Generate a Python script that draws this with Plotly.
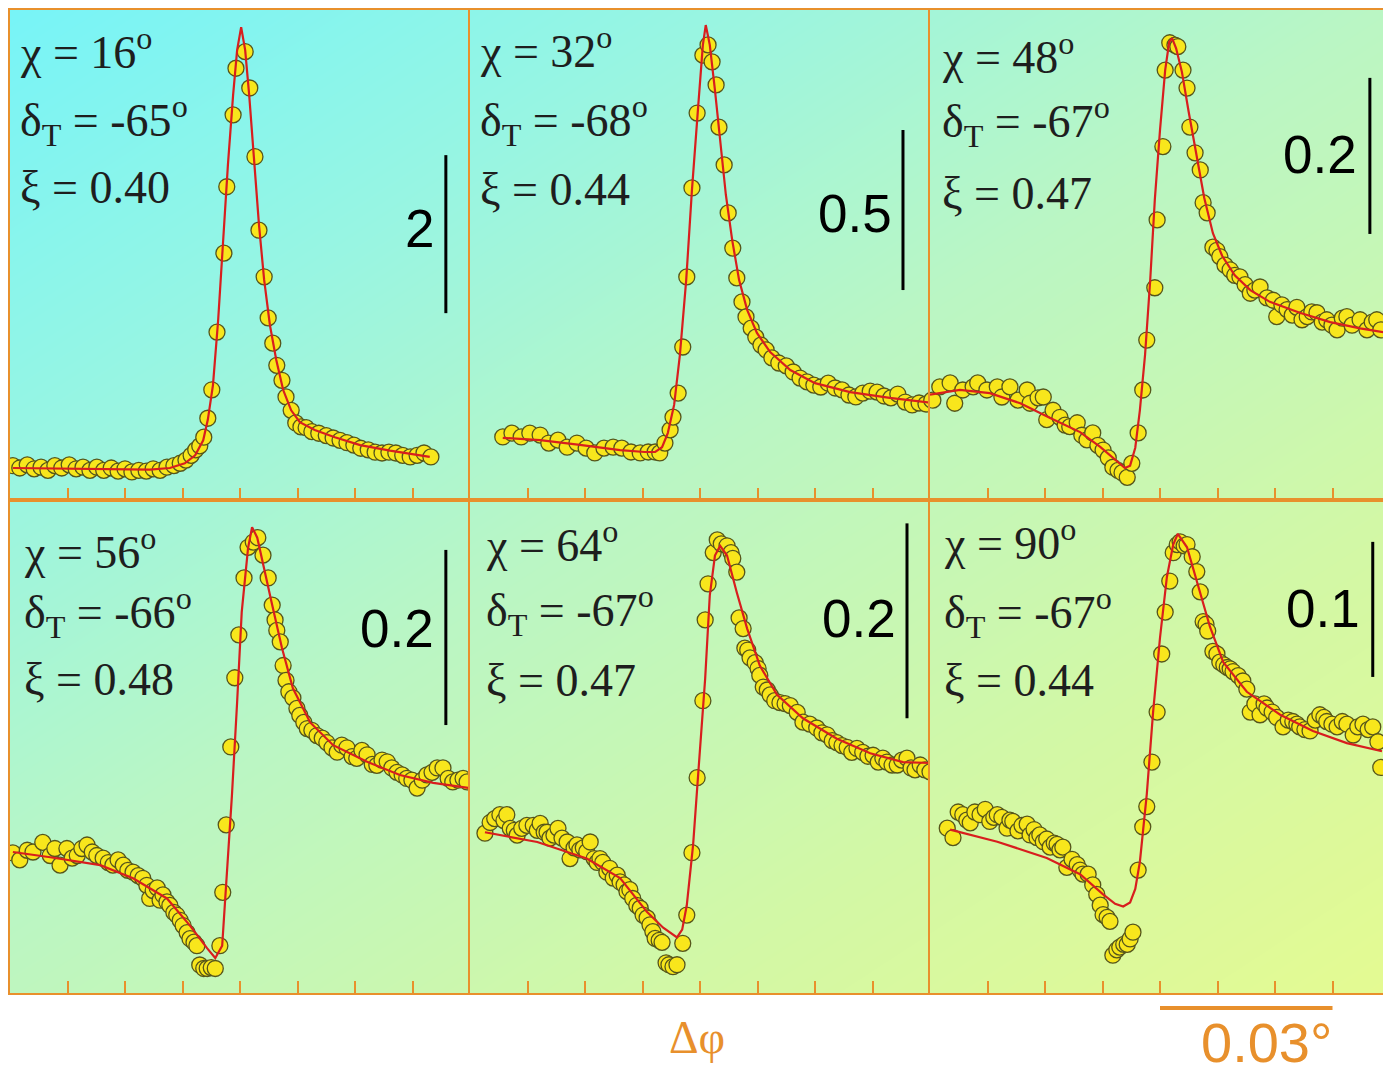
import numpy as np
import plotly.graph_objects as go

# ======================= DATA =======================
# Panel parameters (text shown in each panel)
chi_deg = ["16", "32", "48", "56", "64", "90"]
delta_T_deg = ["-65", "-68", "-67", "-66", "-67", "-67"]
xi_vals = ["0.40", "0.44", "0.47", "0.48", "0.47", "0.44"]
scale_bar_values = [2, 0.5, 0.2, 0.2, 0.2, 0.1]
scale_bar_labels = ["2", "0.5", "0.2", "0.2", "0.2", "0.1"]
phi_scale_deg = 0.03
phi_scale_label = "0.03°"
x_tick_deg = [-0.03, -0.02, -0.01, 0.0, 0.01, 0.02, 0.03]

# Panel 1 (chi = 16)  -- delta phi in millidegrees, signal in panel units
p1_dphi_mdeg = [-39.5, -38.3, -37.0, -35.8, -34.6, -33.4, -32.2, -31.0, -29.7, -28.5,
                -27.3, -26.1, -24.9, -23.7, -22.4, -21.2, -20.0, -18.8, -17.6, -16.3,
                -15.1, -13.9, -12.7, -11.5, -10.4, -9.4, -8.5, -7.7, -7.0, -6.3,
                -5.6, -4.9, -4.0, -2.8, -2.3, -1.2, -0.7,
                0.9, 1.7, 2.6, 3.3, 4.2, 4.9, 5.7, 6.4, 7.3, 8.0,
                8.9, 9.7, 10.6, 11.5, 12.5, 13.7, 15.0, 16.2, 17.4, 18.6,
                19.8, 21.0, 22.3, 23.5, 24.7, 25.9, 27.1, 28.3, 29.6, 30.8,
                32.0, 33.2]
p1_signal = [0.03, 0.00, 0.04, -0.01, 0.01, -0.03, 0.03, 0.00, 0.04, -0.01,
             0.01, -0.03, 0.01, -0.03, 0.00, -0.04, -0.01, -0.05, -0.03, -0.04,
             -0.01, -0.03, 0.01, 0.03, 0.06, 0.10, 0.16, 0.23, 0.28, 0.39,
             0.63, 0.99, 1.72, 2.72, 3.56, 4.47, 5.06,
             5.27, 4.81, 3.94, 3.01, 2.42, 1.90, 1.58, 1.30, 1.11, 0.90,
             0.73, 0.57, 0.52, 0.51, 0.46, 0.44, 0.41, 0.38, 0.35, 0.32,
             0.29, 0.25, 0.23, 0.20, 0.19, 0.20, 0.19, 0.16, 0.14, 0.16,
             0.19, 0.14]
p1_fit_dphi_mdeg = [-39.5, -24.3, -15.7, -12.2, -9.6, -7.8, -6.4, -5.6, -4.7, -3.8,
                    -3.0, -2.1, -1.2, -0.5, 0.2, 0.9, 1.6, 2.4, 3.3, 4.2,
                    5.2, 6.3, 7.5, 8.9, 10.4, 13.0, 16.5, 20.9, 26.1, 33.0]
p1_fit_signal = [0.00, -0.01, -0.02, 0.00, 0.06, 0.16, 0.35, 0.61, 1.05, 1.87,
                 2.82, 3.84, 4.72, 5.29, 5.58, 5.29, 4.72, 3.90, 3.08, 2.38,
                 1.81, 1.37, 0.99, 0.73, 0.58, 0.48, 0.39, 0.29, 0.22, 0.14]

# Panel 2 (chi = 32)
p2_dphi_mdeg = [-34.3, -32.7, -31.1, -29.6, -27.8, -26.3, -24.7, -23.1, -21.4, -19.8,
                -18.3, -16.7, -15.1, -13.6, -12.0, -10.4, -9.0,
                -7.8, -7.0, -6.1, -5.2, -4.7, -3.8, -3.0, -2.3, -1.4, -0.5,
                0.5, 1.4, 2.1, 2.8, 3.3, 4.2, 4.9, 5.7, 6.4, 7.3, 8.0,
                8.9, 9.7, 10.6, 11.5, 12.5, 13.7, 15.0, 16.2, 17.4, 18.6,
                19.8, 21.0, 22.3, 23.5, 24.7, 25.9, 27.1, 28.3, 29.6, 30.8,
                32.0, 33.2, 34.4, 35.7, 36.9, 38.1, 39.3, 40.3]
p2_signal = [0.041, 0.053, 0.041, 0.053, 0.047, 0.022, 0.031, 0.009, 0.022, 0.006,
             -0.009, 0.006, 0.009, 0.006, -0.006, -0.009, -0.006,
             -0.006, -0.009, 0.022, 0.063, 0.103, 0.178, 0.322, 0.541, 0.819, 1.053,
             1.234, 1.266, 1.213, 1.141, 1.009, 0.891, 0.741, 0.631, 0.538, 0.463, 0.416,
             0.381, 0.353, 0.328, 0.313, 0.288, 0.272, 0.263, 0.244, 0.225, 0.213,
             0.203, 0.197, 0.209, 0.194, 0.188, 0.172, 0.166, 0.178, 0.184, 0.181,
             0.169, 0.163, 0.175, 0.150, 0.141, 0.147, 0.144, 0.156]
p2_fit_dphi_mdeg = [-34.3, -27.8, -20.9, -13.9, -9.6, -7.8, -6.6, -5.6, -4.5, -3.5,
                    -2.4, -1.4, -0.3, 0.5, 1.0, 1.7, 2.6, 3.5, 4.5, 5.6,
                    6.8, 8.2, 9.9, 12.2, 15.7, 20.0, 26.1, 33.0, 40.5]
p2_fit_signal = [0.038, 0.031, 0.016, 0.000, -0.006, -0.006, 0.009, 0.053, 0.141, 0.297,
                 0.531, 0.813, 1.078, 1.266, 1.328, 1.266, 1.125, 0.969, 0.797, 0.656,
                 0.531, 0.438, 0.366, 0.306, 0.250, 0.209, 0.181, 0.163, 0.147]

# Panel 3 (chi = 48)
p3_dphi_mdeg = [-39.5, -38.3, -36.5, -35.7, -34.3, -32.5, -31.7, -30.1, -28.3, -27.5,
                -26.1, -24.7, -23.1, -22.6, -21.2, -20.3, -19.7, -18.6, -17.4, -16.5,
                -15.7, -14.4, -13.6, -12.7, -11.7, -10.8, -9.9, -9.0, -8.2, -7.3,
                -6.6, -5.7, -4.9, -3.8, -3.0, -2.3, -0.9, -0.5, 0.5, 0.9,
                1.7, 2.6, 3.1, 4.0, 4.7, 5.2, 6.1, 7.0, 7.5, 8.2,
                9.2, 9.9, 10.4, 11.3, 12.2, 13.0, 13.9, 14.8, 15.7, 16.5,
                17.4, 18.6, 19.7, 20.3, 21.2, 22.1, 23.0, 23.8, 24.7, 25.6,
                26.4, 27.3, 28.2, 29.0, 29.9, 30.8, 31.7, 32.5, 33.4, 34.8,
                36.0, 36.9, 37.7, 38.4]
p3_signal = [-0.013, 0.004, 0.009, -0.017, 0.000, 0.004, 0.009, 0.000, 0.004, -0.009,
             0.004, -0.013, 0.000, -0.017, -0.010, -0.009, -0.038, -0.026, -0.035, -0.045,
             -0.047, -0.042, -0.058, -0.064, -0.055, -0.071, -0.077, -0.087, -0.099, -0.103,
             -0.106, -0.112, -0.094, -0.055, 0.000, 0.064, 0.131, 0.218, 0.312, 0.410,
             0.445, 0.442, 0.440, 0.410, 0.387, 0.337, 0.304, 0.282, 0.240, 0.227,
             0.183, 0.179, 0.171, 0.160, 0.154, 0.147, 0.145, 0.135, 0.124, 0.128,
             0.132, 0.118, 0.115, 0.094, 0.109, 0.103, 0.096, 0.106, 0.090, 0.094,
             0.100, 0.099, 0.087, 0.090, 0.083, 0.077, 0.092, 0.094, 0.083, 0.090,
             0.077, 0.087, 0.090, 0.077]
p3_fit_dphi_mdeg = [-40.0, -34.8, -29.6, -24.3, -19.1, -13.9, -10.4, -7.8, -6.1, -5.2,
                    -4.3, -3.5, -2.6, -1.7, -0.9, 0.0, 0.9, 1.6, 2.1, 2.8,
                    3.8, 5.0, 6.3, 7.7, 9.2, 10.8, 13.0, 15.7, 19.1, 24.3,
                    29.6, 34.8, 38.8]
p3_fit_signal = [-0.006, 0.000, -0.004, -0.017, -0.036, -0.054, -0.073, -0.090, -0.100, -0.097,
                 -0.074, -0.026, 0.045, 0.141, 0.244, 0.333, 0.410, 0.446, 0.451, 0.438,
                 0.408, 0.356, 0.301, 0.246, 0.201, 0.172, 0.147, 0.128, 0.113, 0.099,
                 0.087, 0.079, 0.074]

# Panel 4 (chi = 56)
p4_dphi_mdeg = [-39.5, -38.3, -37.0, -36.0, -34.3, -33.0, -32.2, -31.3, -30.1, -29.2,
                -28.3, -27.5, -26.6, -25.7, -24.9, -23.8, -22.9, -22.1, -21.2, -20.3,
                -19.5, -18.6, -17.7, -16.9, -16.2, -15.7, -15.1, -14.4, -13.9, -13.4,
                -12.7, -12.2, -11.5, -11.0, -10.4, -9.9, -9.2, -8.7, -8.0, -7.5,
                -7.0, -6.3, -5.7, -5.0, -4.3, -3.5, -3.0, -2.4, -1.6, -0.9,
                -0.2, 0.7, 1.4, 2.3, 3.1, 4.0, 4.9, 5.6, 6.1, 6.4,
                7.0, 7.5, 8.0, 8.5, 9.2, 9.9, 10.4, 11.1, 11.7, 12.5,
                13.4, 14.3, 15.1, 16.0, 16.9, 17.7, 18.6, 19.5, 20.3, 21.2,
                22.1, 23.0, 23.8, 24.7, 25.6, 26.4, 27.3, 28.2, 29.0, 29.9,
                30.8, 31.7, 32.5, 33.4, 34.3, 35.3, 36.2, 37.0, 37.9, 38.8,
                39.5]
p4_signal = [-0.003, -0.011, 0.000, -0.002, 0.009, -0.006, 0.002, -0.017, 0.002, -0.009,
             -0.006, 0.002, 0.006, -0.002, -0.006, -0.009, -0.014, -0.017, -0.011, -0.017,
             -0.023, -0.025, -0.029, -0.032, -0.040, -0.055, -0.046, -0.043, -0.057, -0.051,
             -0.059, -0.063, -0.071, -0.074, -0.080, -0.086, -0.094, -0.101, -0.105, -0.109,
             -0.131, -0.135, -0.135, -0.134, -0.135, -0.109, -0.048, 0.029, 0.118, 0.197,
             0.246, 0.311, 0.346, 0.352, 0.357, 0.337, 0.311, 0.280, 0.263, 0.251,
             0.238, 0.211, 0.194, 0.181, 0.174, 0.162, 0.154, 0.146, 0.139, 0.137,
             0.131, 0.128, 0.123, 0.117, 0.112, 0.120, 0.117, 0.107, 0.105, 0.114,
             0.109, 0.098, 0.097, 0.103, 0.101, 0.094, 0.089, 0.086, 0.082, 0.080,
             0.071, 0.080, 0.086, 0.089, 0.094, 0.094, 0.082, 0.078, 0.080, 0.082,
             0.078]
p4_fit_dphi_mdeg = [-39.5, -33.0, -24.3, -18.6, -12.7, -8.7, -5.7, -4.3, -3.1, -2.3,
                    -1.4, -0.5, 0.3, 1.4, 2.1, 3.0, 4.0, 5.6, 7.3, 9.2,
                    12.2, 16.2, 22.1, 27.8, 33.6, 40.0]
p4_fit_signal = [-0.002, -0.008, -0.017, -0.032, -0.055, -0.086, -0.112, -0.123, -0.109, -0.032,
                 0.063, 0.169, 0.272, 0.345, 0.369, 0.357, 0.326, 0.280, 0.231, 0.185,
                 0.146, 0.120, 0.101, 0.086, 0.077, 0.071]

# Panel 5 (chi = 64)
p5_dphi_mdeg = [-37.4, -36.5, -35.7, -34.8, -34.1, -33.6, -33.0, -32.3, -31.8, -31.0,
                -30.1, -29.0, -28.3, -27.8, -27.1, -26.6, -26.1, -25.4, -24.7, -24.0,
                -23.1, -22.6, -21.9, -21.4, -20.9, -20.3, -19.7, -19.1, -18.4, -17.9,
                -17.4, -16.9, -16.2, -15.7, -15.1, -14.4, -13.9, -13.2, -12.7, -12.2,
                -11.7, -11.0, -10.4, -9.9, -9.2, -8.7, -8.2, -7.8, -7.1, -6.6,
                -5.9, -5.4, -4.7, -4.0, -3.0, -2.3, -1.4, -0.5, 0.5, 0.9,
                1.4, 2.3, 3.0, 3.7, 4.7, 5.4, 5.7, 6.4, 6.8, 7.5,
                7.8, 8.3, 8.7, 9.6, 10.1, 10.4, 11.0, 11.7, 12.2, 13.0,
                13.9, 14.8, 15.7, 16.9, 17.9, 19.1, 20.3, 21.2, 22.1, 23.0,
                23.8, 24.7, 25.6, 26.4, 27.3, 28.3, 29.2, 30.1, 31.0, 31.8,
                32.5, 33.4, 34.3, 35.1, 36.0, 36.7, 37.4, 38.3, 39.1, 40.0]
p5_signal = [0.002, 0.013, 0.017, 0.021, 0.015, 0.021, 0.007, 0.005, 0.000, 0.007,
             0.010, 0.010, 0.005, 0.012, 0.003, 0.003, -0.003, 0.000, 0.007, -0.003,
             -0.007, -0.024, -0.013, -0.010, -0.015, -0.013, -0.017, -0.007, -0.024, -0.028,
             -0.024, -0.028, -0.038, -0.034, -0.044, -0.041, -0.048, -0.051, -0.058, -0.056,
             -0.065, -0.072, -0.075, -0.082, -0.085, -0.092, -0.099, -0.106, -0.108, -0.110,
             -0.131, -0.133, -0.135, -0.133, -0.111, -0.082, -0.018, 0.059, 0.138, 0.221,
             0.258, 0.290, 0.303, 0.299, 0.297, 0.290, 0.284, 0.270, 0.223, 0.212,
             0.192, 0.190, 0.182, 0.177, 0.171, 0.164, 0.152, 0.149, 0.144, 0.138,
             0.136, 0.135, 0.133, 0.126, 0.116, 0.114, 0.110, 0.105, 0.103, 0.097,
             0.095, 0.092, 0.090, 0.085, 0.089, 0.085, 0.081, 0.082, 0.075, 0.079,
             0.075, 0.072, 0.072, 0.077, 0.079, 0.069, 0.067, 0.072, 0.067, 0.065]
p5_fit_dphi_mdeg = [-37.4, -28.3, -19.7, -13.9, -9.2, -6.4, -4.0, -3.1, -2.3, -1.2,
                    -0.2, 0.9, 1.7, 2.6, 3.5, 4.7, 6.4, 8.2, 10.4, 13.4,
                    17.9, 23.8, 29.6, 35.3, 40.3]
p5_fit_signal = [0.003, -0.007, -0.024, -0.044, -0.079, -0.095, -0.105, -0.097, -0.072, -0.010,
                 0.072, 0.161, 0.246, 0.287, 0.297, 0.287, 0.249, 0.212, 0.174, 0.144,
                 0.120, 0.099, 0.084, 0.075, 0.074]

# Panel 6 (chi = 90)
p6_dphi_mdeg = [-37.0, -36.0, -35.1, -34.3, -33.6, -33.0, -32.2, -31.3, -30.4, -29.6,
                -28.9, -28.3, -27.5, -26.6, -26.1, -25.6, -24.7, -24.0, -23.1, -22.6,
                -21.9, -21.4, -20.9, -20.3, -19.7, -19.1, -18.4, -17.9, -17.4, -16.9,
                -16.2, -15.3, -14.4, -13.9, -13.4, -12.5, -11.7, -11.0, -10.4, -9.9,
                -9.2, -8.7, -8.2, -7.5, -7.0, -6.3, -5.7, -5.2, -4.7, -3.8,
                -3.0, -2.3, -1.4, -0.5, 0.3, 0.9, 1.7, 2.3, 3.0, 3.5,
                4.2, 4.7, 5.6, 6.4, 7.0, 7.5, 8.0, 8.3, 9.2, 9.9,
                10.4, 11.1, 11.7, 12.2, 12.7, 13.6, 14.4, 15.1, 15.7, 16.5,
                17.4, 18.1, 18.6, 19.5, 20.3, 21.4, 22.3, 23.1, 23.8, 24.3,
                25.2, 26.1, 27.0, 27.8, 28.5, 29.0, 29.9, 30.8, 31.7, 32.5,
                33.6, 34.4, 35.3, 36.2, 37.0, 37.9, 38.4]
p6_signal = [0.001, -0.006, 0.013, 0.011, 0.007, 0.005, 0.013, 0.011, 0.015, 0.006,
             0.009, 0.011, 0.009, 0.001, 0.007, 0.006, -0.001, 0.003, 0.004, -0.004,
             0.000, -0.006, -0.004, -0.009, -0.007, -0.013, -0.010, -0.011, -0.015, -0.013,
             -0.028, -0.022, -0.026, -0.030, -0.033, -0.033, -0.041, -0.048, -0.056, -0.063,
             -0.065, -0.068, -0.093, -0.089, -0.087, -0.085, -0.085, -0.081, -0.076, -0.030,
             0.002, 0.017, 0.050, 0.087, 0.130, 0.161, 0.184, 0.205, 0.211, 0.213,
             0.210, 0.211, 0.202, 0.191, 0.176, 0.154, 0.152, 0.147, 0.132, 0.130,
             0.124, 0.122, 0.120, 0.119, 0.117, 0.114, 0.110, 0.104, 0.087, 0.093,
             0.085, 0.093, 0.090, 0.087, 0.083, 0.076, 0.081, 0.080, 0.078, 0.076,
             0.074, 0.073, 0.081, 0.085, 0.083, 0.080, 0.078, 0.076, 0.080, 0.078,
             0.070, 0.076, 0.078, 0.074, 0.076, 0.065, 0.046]
p6_fit_dphi_mdeg = [-36.5, -28.3, -19.7, -13.9, -9.9, -7.8, -6.4, -5.2, -4.3, -3.5,
                    -2.3, -1.2, 0.0, 1.2, 2.3, 3.1, 4.7, 6.4, 8.7, 11.0,
                    15.1, 20.9, 26.6, 32.5, 38.6]
p6_fit_signal = [0.000, -0.009, -0.021, -0.033, -0.048, -0.055, -0.057, -0.054, -0.044, -0.024,
                 0.026, 0.087, 0.142, 0.187, 0.211, 0.219, 0.209, 0.184, 0.150, 0.124,
                 0.102, 0.085, 0.073, 0.064, 0.058]

panel_series = [
    (p1_dphi_mdeg, p1_signal, p1_fit_dphi_mdeg, p1_fit_signal),
    (p2_dphi_mdeg, p2_signal, p2_fit_dphi_mdeg, p2_fit_signal),
    (p3_dphi_mdeg, p3_signal, p3_fit_dphi_mdeg, p3_fit_signal),
    (p4_dphi_mdeg, p4_signal, p4_fit_dphi_mdeg, p4_fit_signal),
    (p5_dphi_mdeg, p5_signal, p5_fit_dphi_mdeg, p5_fit_signal),
    (p6_dphi_mdeg, p6_signal, p6_fit_dphi_mdeg, p6_fit_signal),
]

# ======================= LAYOUT / STYLE =======================
W, H = 1383, 1076
ORANGE = "#e8902c"
TEXT = "#1e1e1e"
PX_PER_DEG = 5750.0

col_px = [(10, 470), (470, 930), (930, 1383)]
row_px = [(10, 500), (500, 993)]
panel_pos = [(0, 0), (0, 1), (0, 2), (1, 0), (1, 1), (1, 2)]  # (row, col)
y_ranges = [(-0.405, 5.797), (-0.156, 1.375), (-0.141, 0.487),
            (-0.163, 0.400), (-0.162, 0.344), (-0.121, 0.244)]
bar_x_mdeg = [35.8, 35.3, 36.5, 35.8, 36.0, 37.0]
bar_y_start = [1.96, 0.50, 0.20, 0.143, 0.120, 0.113]
bar_label_px = [(436, 228), (894, 213), (1359, 155), (436, 628), (898, 618), (1362, 608)]
text_px = [(18, 49, 120, 187), (478, 48, 120, 190), (940, 54, 122, 193),
           (22, 549, 612, 679), (484, 542, 610, 680), (942, 540, 612, 680)]


def fx(px):
    return px / W


def fy(py):
    return 1 - py / H


fig = go.Figure()

# Background gradient (heatmap on its own axes, drawn first)
fig.add_trace(go.Heatmap(
    x=[0, 1], y=[0, 1],
    z=[[0.554, 1.05], [0.01, 0.506]],
    zmin=0, zmax=1.05, zsmooth="best", showscale=False, hoverinfo="skip",
    colorscale=[[0.0, "rgb(118,244,248)"], [0.25, "rgb(152,245,226)"],
                [0.48, "rgb(186,246,196)"], [0.75, "rgb(210,248,166)"],
                [1.0, "rgb(228,250,146)"]],
    xaxis="x", yaxis="y"))

layout_axes = dict(
    xaxis=dict(domain=[fx(10), 1.0], range=[0, 1], visible=False, anchor="y", fixedrange=True),
    yaxis=dict(domain=[fy(993), fy(10)], range=[0, 1], visible=False, anchor="x", fixedrange=True),
)

shapes = []
annotations = []
serif = dict(family="Liberation Serif, Times New Roman", size=46, color=TEXT)

for i, (xs, ys, fxs, fys) in enumerate(panel_series):
    n = i + 2
    r, c = panel_pos[i]
    left, right = col_px[c]
    top, bottom = row_px[r]
    xr = [-0.04, -0.04 + (right - left) / PX_PER_DEG]
    layout_axes[f"xaxis{n}"] = dict(
        domain=[fx(left), fx(right)], range=xr, anchor=f"y{n}",
        showline=True, linecolor=ORANGE, linewidth=2, mirror=True,
        ticks="inside", ticklen=12, tickwidth=2, tickcolor=ORANGE,
        tickmode="array", tickvals=x_tick_deg, showticklabels=False,
        showgrid=False, zeroline=False, fixedrange=True)
    layout_axes[f"yaxis{n}"] = dict(
        domain=[fy(bottom), fy(top)], range=list(y_ranges[i]), anchor=f"x{n}",
        showline=True, linecolor=ORANGE, linewidth=2, mirror=False,
        ticks="", showticklabels=False, showgrid=False, zeroline=False, fixedrange=True)

    fig.add_trace(go.Scatter(
        x=np.array(xs) / 1000.0, y=ys, mode="markers", xaxis=f"x{n}", yaxis=f"y{n}",
        marker=dict(size=16, color="#f8e61c", line=dict(color="#55551c", width=1.3)),
        hoverinfo="skip"))
    fig.add_trace(go.Scatter(
        x=np.array(fxs) / 1000.0, y=fys, mode="lines", xaxis=f"x{n}", yaxis=f"y{n}",
        line=dict(color="#d81e1e", width=2.2), hoverinfo="skip"))

    # vertical scale bar
    bx = bar_x_mdeg[i] / 1000.0
    shapes.append(dict(type="line", xref=f"x{n}", yref=f"y{n}",
                       x0=bx, x1=bx, y0=bar_y_start[i], y1=bar_y_start[i] + scale_bar_values[i],
                       line=dict(color="black", width=3)))
    lx, ly = bar_label_px[i]
    annotations.append(dict(xref="paper", yref="paper", x=fx(lx), y=fy(ly),
                            xanchor="right", yanchor="middle", showarrow=False,
                            text=scale_bar_labels[i],
                            font=dict(family="Liberation Sans, Arial", size=53, color="black")))

    tx, ychi, ydel, yxi = text_px[i]
    annotations.append(dict(xref="paper", yref="paper", x=fx(tx), y=fy(ychi),
                            xanchor="left", yanchor="middle", showarrow=False,
                            text=f"χ = {chi_deg[i]}<sup>o</sup>", font=serif))
    annotations.append(dict(xref="paper", yref="paper", x=fx(tx), y=fy(ydel),
                            xanchor="left", yanchor="middle", showarrow=False,
                            text=f"δ<sub>T</sub> = {delta_T_deg[i]}<sup>o</sup>", font=serif))
    annotations.append(dict(xref="paper", yref="paper", x=fx(tx), y=fy(yxi),
                            xanchor="left", yanchor="middle", showarrow=False,
                            text=f"ξ = {xi_vals[i]}", font=serif))

# Δφ axis label and 0.03° horizontal scale bar
annotations.append(dict(xref="paper", yref="paper", x=fx(697), y=fy(1037),
                        xanchor="center", yanchor="middle", showarrow=False, text="Δφ",
                        font=dict(family="Liberation Serif, Times New Roman", size=46, color=ORANGE)))
shapes.append(dict(type="line", xref="x7", yref="paper", x0=0.0, x1=phi_scale_deg,
                   y0=fy(1008), y1=fy(1008), line=dict(color=ORANGE, width=4)))
annotations.append(dict(xref="paper", yref="paper", x=fx(1266), y=0.0,
                        xanchor="center", yanchor="bottom", showarrow=False, text=phi_scale_label,
                        font=dict(family="Liberation Sans, Arial", size=56, color=ORANGE)))

fig.update_layout(
    width=W, height=H, margin=dict(l=0, r=0, t=0, b=0),
    paper_bgcolor="white", plot_bgcolor="rgba(0,0,0,0)",
    showlegend=False, hovermode=False,
    shapes=shapes, annotations=annotations,
    **layout_axes)

fig.write_html("out.html")
